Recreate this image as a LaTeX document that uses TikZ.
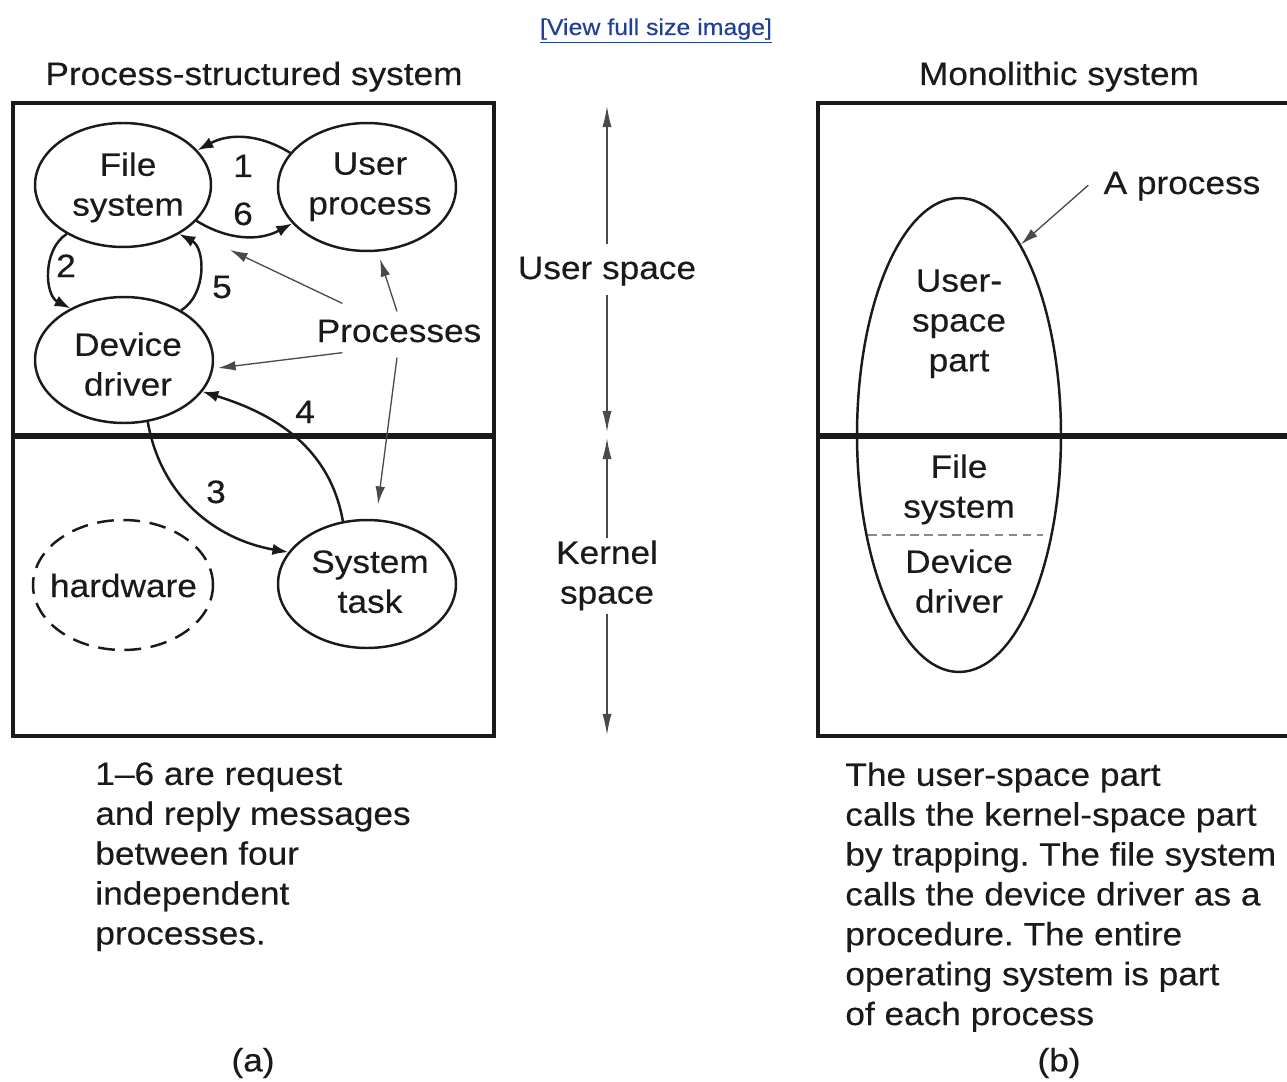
\documentclass[tikz,border=0pt]{standalone}
\usepackage{fontspec}
\setmainfont[FakeStretch=1.09,FakeBold=0.3]{Liberation Sans}
\usetikzlibrary{shapes.geometric,arrows.meta,calc}
\definecolor{ink}{HTML}{1A1A1A}
\definecolor{thin}{HTML}{4A4A4A}
\definecolor{faint}{HTML}{8A8A8A}
\definecolor{linkc}{HTML}{1F3F99}
\frenchspacing
\begin{document}
\begin{tikzpicture}[x=0.02cm,y=-0.02cm,
  txt/.style={font=\fontsize{18.4}{22.7}\selectfont, text=ink, inner sep=0pt},
  mtxt/.style={txt, align=center, anchor=north},
  proc/.style={ellipse, draw=ink, line width=1.4pt, inner sep=0pt},
  msg/.style={draw=ink, line width=1.4pt, -{Latex[length=9pt,width=6.5pt]}},
  ptr/.style={draw=thin, line width=0.75pt, -{Latex[length=10pt,width=5.5pt]}},
  spanarrow/.style={draw=thin, line width=0.85pt, -{Latex[length=12pt,width=5.2pt]}},
  frame/.style={draw=ink, line width=1.8pt},
  divide/.style={draw=ink, line width=3.4pt}]

\useasboundingbox (0,0) rectangle (1287,1081);
\fill[white] (0,0) rectangle (1287,1081);

% link and titles
\node[font=\fontsize{13}{15}\selectfont, text=linkc, inner sep=0pt, anchor=base] (link) at (656,35) {\underline{[View full size image]}};
\node[txt, anchor=base] (ta) at (254,85) {Process-structured system};
\node[txt, anchor=base] (tb) at (1059,85) {Monolithic system};

% ---------- (a) ----------
\node[frame, minimum width=9.62cm, minimum height=12.66cm, inner sep=0pt] (boxa) at (253.5,419.5) {};
\draw[divide] (13,436) -- (494,436);

\node[proc, minimum width=3.52cm, minimum height=2.48cm] (fs) at (123,185) {};
\node[mtxt] (fsl) at (128,152) {File\\system};
\node[proc, minimum width=3.56cm, minimum height=2.56cm] (up) at (367,187) {};
\node[mtxt] (upl) at (370,152) {User\\process};
\node[proc, minimum width=3.56cm, minimum height=2.52cm] (dd) at (124,360) {};
\node[mtxt] (ddl) at (128,332) {Device\\driver};
\node[proc, minimum width=3.56cm, minimum height=2.56cm] (st) at (367,584) {};
\node[mtxt] (stl) at (370,550) {System\\task};
\node[proc, dash pattern=on 9.5pt off 5.5pt, minimum width=3.6cm, minimum height=2.6cm] (hw) at (123,585) {};
\node[txt, anchor=base] (hwl) at (123.5,597) {hardware};

% messages
\draw[msg] (up.156) to[bend right=30] (fs.25);
\node[txt, anchor=base] (m1) at (243,177) {1};
\draw[msg] (fs.-26) to[bend right=30] (up.206);
\node[txt, anchor=base] (m6) at (243,225) {6};
\draw[msg] (fs.221) to[bend right=60] (dd.136);
\node[txt, anchor=base] (m2) at (66,277) {2};
\draw[msg] (dd.41) to[bend right=60] (fs.-41);
\node[txt, anchor=base] (m5) at (222,298) {5};
\draw[msg] (dd.-69) to[out=-80,in=170] (st.158);
\node[txt, anchor=base] (m3) at (216,503) {3};
\draw[msg] (st.111) to[out=100,in=-17] (dd.-22);
\node[txt, anchor=base] (m4) at (305,423) {4};

% Processes pointers
\node[txt, anchor=base] (pl) at (399,342) {Processes};
\coordinate (pfs) at (230,250);
\coordinate (pdd) at (218,368);
\coordinate (pup) at (380,259);
\coordinate (pst) at (378,504);
\draw[ptr] ($(pl.north west)+(26,-16)$) -- (pfs);
\draw[ptr] ($(pl.south west)+(26,10)$) -- (pdd);
\draw[ptr] ($(pl.north)+(-2,-8)$) -- (pup);
\draw[ptr] ($(pl.south)+(-2,15)$) -- (pst);

\node[txt, anchor=north west, align=left] (capa) at (95,762) {1--6 are request\\and reply messages\\between four\\independent\\processes.};
\node[txt] (la) at (253,1063) {(a)};

% ---------- middle ----------
\node[txt, anchor=base] (us) at (607,279) {User space};
\coordinate (usT) at (607,106);
\coordinate (usB) at (607,432);
\draw[spanarrow, shorten <=7pt] (us.north) -- (usT);
\draw[spanarrow, shorten <=5pt] (us.south) -- (usB);
\node[mtxt] (ks) at (607,540) {Kernel\\space};
\coordinate (ksT) at (607,438);
\coordinate (ksB) at (607,735);
\draw[spanarrow, shorten <=1pt] (ks.north) -- (ksT);
\draw[spanarrow, shorten <=2pt] (ks.south) -- (ksB);

% ---------- (b) ----------
\draw[frame] (1287,103) -- (818,103) -- (818,736) -- (1287,736);
\draw[divide] (818,436) -- (1287,436);
\node[proc, minimum width=4.08cm, minimum height=9.48cm] (mono) at (959,435) {};
\draw[faint, line width=0.8pt, dash pattern=on 5pt off 3pt] (868,535) -- (1043,535);
\node[mtxt] (mu) at (959,269) {User-\\space\\part};
\node[mtxt] (mf) at (959,454) {File\\system};
\node[mtxt] (md) at (959,549) {Device\\driver};
\node[txt, anchor=base] (ap) at (1182,194) {A process};
\draw[ptr] ($(ap.west)+(-15,-1)$) -- (mono.72);

\node[txt, anchor=north west, align=left] (capb) at (845,762) {The user-space part\\calls the kernel-space part\\by trapping. The file system\\calls the device driver as a\\procedure. The entire\\operating system is part\\of each process};
\node[txt] (lb) at (1059,1063) {(b)};
\end{tikzpicture}
\end{document}
